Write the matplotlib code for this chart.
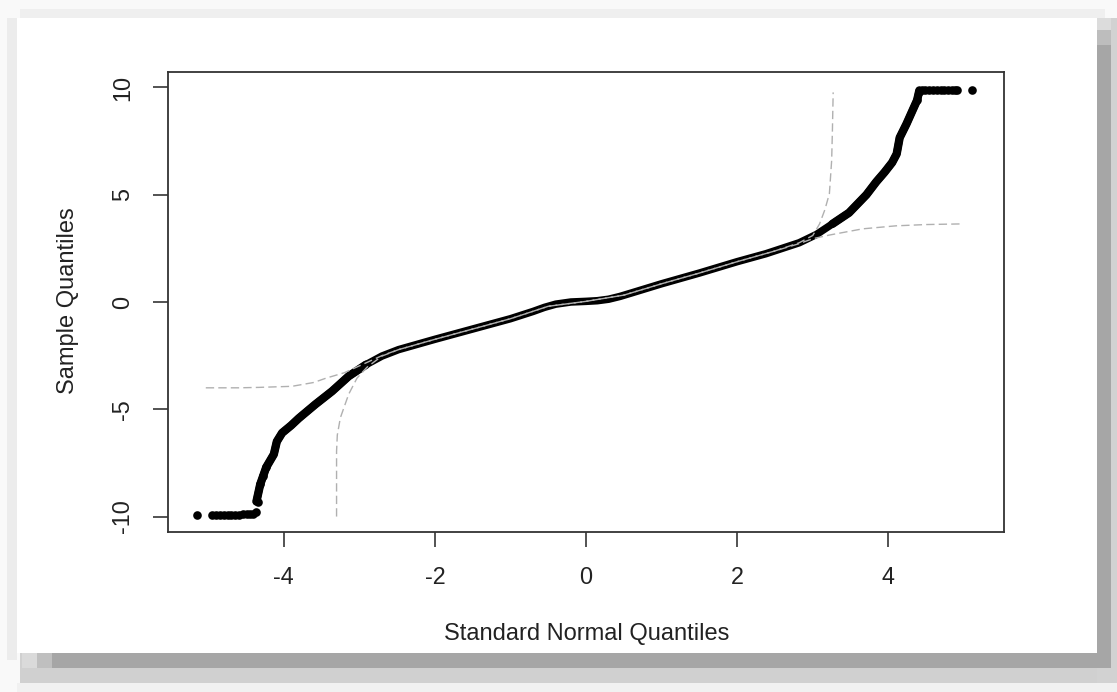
import matplotlib
matplotlib.use("Agg")
import matplotlib.pyplot as plt
from matplotlib.patches import Rectangle

# ---------------- data ----------------
# main body of the QQ curve (dense points drawn as a thick band)
curve_x = [-4.36, -4.31, -4.27, -4.23, -4.13, -4.09, -4.02, -3.90, -3.80, -3.58,
           -3.36, -3.14, -2.91, -2.70, -2.48, -2.00, -1.50, -1.00, -0.70, -0.55,
           -0.40, -0.20, 0.00, 0.15, 0.30, 0.45, 0.60, 1.00, 1.50, 2.00,
           2.38, 2.82, 3.05, 3.26, 3.48, 3.71, 3.84, 3.95, 4.05, 4.11,
           4.15, 4.24, 4.32, 4.38, 4.41]
curve_y = [-9.30, -8.50, -8.10, -7.70, -7.10, -6.50, -6.10, -5.75, -5.42, -4.77,
           -4.16, -3.46, -2.92, -2.52, -2.22, -1.74, -1.26, -0.78, -0.44, -0.25,
           -0.10, 0.00, 0.03, 0.06, 0.13, 0.26, 0.42, 0.85, 1.35, 1.88,
           2.25, 2.76, 3.15, 3.64, 4.16, 5.00, 5.60, 6.05, 6.50, 6.90,
           7.66, 8.30, 8.93, 9.40, 9.86]

# discrete tail points
low_tail_x = [-5.14, -4.95, -4.89, -4.84, -4.79, -4.74, -4.69, -4.64, -4.59,
              -4.54, -4.49, -4.44, -4.40, -4.36, -4.34, -4.31, -4.27, -4.23]
low_tail_y = [-9.93, -9.93, -9.92, -9.92, -9.92, -9.92, -9.91, -9.91, -9.91,
              -9.90, -9.90, -9.89, -9.87, -9.80, -9.30, -8.50, -8.10, -7.70]
high_tail_x = [4.38, 4.41, 4.44, 4.49, 4.54, 4.59, 4.64, 4.69, 4.74, 4.79,
               4.84, 4.88, 4.91, 5.11]
high_tail_y = [9.40, 9.80, 9.86, 9.87, 9.87, 9.88, 9.88, 9.88, 9.88, 9.89,
               9.89, 9.89, 9.90, 9.90]

# dashed envelope lines
env_up_x = [-5.03, -4.60, -4.33, -3.89, -3.60, -3.44, -3.20, -3.00, -2.70, -2.48,
            -2.00, -1.50, -1.00, -0.50, 0.00, 0.50, 1.00, 1.50, 2.00, 2.50,
            2.82, 3.00, 3.09, 3.16, 3.22, 3.25, 3.26, 3.27]
env_up_y = [-4.00, -4.00, -3.98, -3.93, -3.75, -3.55, -3.30, -2.98, -2.50, -2.22,
            -1.74, -1.26, -0.78, -0.20, 0.03, 0.32, 0.85, 1.35, 1.88, 2.38,
            2.76, 3.10, 3.64, 4.30, 5.05, 6.60, 8.00, 9.77]
env_lo_x = [-3.30, -3.30, -3.29, -3.25, -3.14, -3.03, -2.90, -2.70, -2.48, -2.00,
            -1.50, -1.00, -0.50, 0.00, 0.50, 1.00, 1.50, 2.00, 2.50, 2.82,
            3.00, 3.22, 3.66, 4.10, 4.50, 4.97]
env_lo_y = [-10.00, -6.96, -6.20, -5.40, -4.30, -3.55, -3.05, -2.52, -2.22, -1.74,
            -1.26, -0.78, -0.20, 0.03, 0.32, 0.85, 1.35, 1.88, 2.38, 2.72,
            2.95, 3.12, 3.41, 3.55, 3.61, 3.64]

x_ticks = [-4, -2, 0, 2, 4]
y_ticks = [-10, -5, 0, 5, 10]
x_label = "Standard Normal Quantiles"
y_label = "Sample Quantiles"

# ---------------- figure ----------------
W, H = 1117, 692
plt.rcParams['font.family'] = ['Liberation Sans', 'DejaVu Sans']
fig = plt.figure(figsize=(W / 100, H / 100), dpi=100, facecolor="#f9f9f9")


def prect(x0, y0, x1, y1, color, z=0):
    """rectangle given in image pixel coords (y downward)"""
    fig.patches.append(Rectangle((x0 / W, 1 - y1 / H), (x1 - x0) / W, (y1 - y0) / H,
                                 transform=fig.transFigure, facecolor=color,
                                 edgecolor="none", zorder=z))


# soft frame + drop shadow (decoration)
prect(7, 18, 17, 660, "#ececec", 0)
prect(20, 9, 1105, 18, "#efefef", 0)
prect(17, 683, 1117, 692, "#f1f1f1", 0)
prect(20, 653, 1117, 683, "#d0d0d0", 0)
prect(1097, 18, 1117, 683, "#d2d2d2", 0)
prect(1097, 18, 1111, 30, "#dcdcdc", 1)
prect(1097, 30, 1111, 45, "#bdbdbd", 1)
prect(1097, 45, 1111, 668, "#a6a6a6", 1)
prect(22, 653, 37, 668, "#dadada", 1)
prect(37, 653, 52, 668, "#bfbfbf", 1)
prect(52, 653, 1111, 668, "#a6a6a6", 1)
prect(17, 18, 1097, 653, "#ffffff", 2)

ax = fig.add_axes([168 / W, 1 - 532 / H, (1004 - 168) / W, (532 - 72) / H])
ax.set_facecolor("white")
ax.set_zorder(3)

ax.set_xlim(-5.53, 5.53)
ax.set_ylim(-10.72, 10.72)

# points / curve
ax.plot(curve_x, curve_y, color="black", lw=5.4, solid_capstyle="round",
        solid_joinstyle="round", zorder=2)
ax.plot(curve_x[:13], curve_y[:13], color="black", lw=6.0, solid_capstyle="round",
        solid_joinstyle="round", zorder=2)
ax.plot(curve_x[33:], curve_y[33:], color="black", lw=6.0, solid_capstyle="round",
        solid_joinstyle="round", zorder=2)
ax.plot(low_tail_x, low_tail_y, "o", color="black", ms=6.2, mew=0, zorder=3)
ax.plot(high_tail_x, high_tail_y, "o", color="black", ms=6.2, mew=0, zorder=3)

# dashed envelope
for ex, ey in ((env_up_x, env_up_y), (env_lo_x, env_lo_y)):
    ln, = ax.plot(ex, ey, color="#b0b0b0", lw=1.0, zorder=4)
    ln.set_dashes((6.0, 3.0))

# axes styling (R base graphics look)
for s in ax.spines.values():
    s.set_color("#333333")
    s.set_linewidth(1.3)
ax.set_xticks(x_ticks)
ax.set_yticks(y_ticks)
ax.set_xticklabels([str(v) for v in x_ticks])
ax.set_yticklabels([str(v) for v in y_ticks], rotation=90, va="center")
ax.tick_params(axis="both", direction="out", length=10.5, width=1.3,
               color="#444444", labelsize=16.8, labelcolor="#222222")
ax.tick_params(axis="x", pad=14)
ax.tick_params(axis="y", pad=14)

fig.text(587 / W, 1 - 634 / H, x_label, ha="center", va="center",
         fontsize=17, color="#222222")
fig.text(68 / W, 1 - 301 / H, y_label, ha="center", va="center", rotation=90,
         fontsize=17, color="#222222")

fig.savefig("out.png", dpi=100, facecolor=fig.get_facecolor())
